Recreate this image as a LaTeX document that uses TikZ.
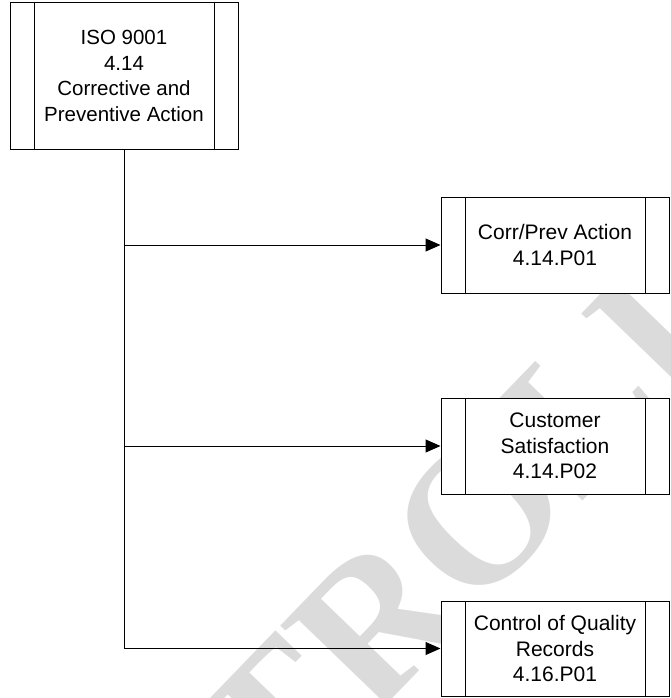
\documentclass[tikz,border=0pt]{standalone}
\usepackage{fontspec}
\setmainfont{Liberation Sans}
\newfontfamily\wmfont{Liberation Serif}
\usetikzlibrary{arrows.meta}
\begin{document}
\begin{tikzpicture}[x=1pt,y=-1pt,
  procbox/.style={draw=black, line width=1pt, fill=white, minimum width=228pt,
    minimum height=96pt, inner sep=0pt, align=center,
    font=\fontsize{21}{25.5}\selectfont,
    path picture={\draw[line width=1pt]
      ([xshift=24pt]path picture bounding box.north west) -- ([xshift=24pt]path picture bounding box.south west)
      ([xshift=-24pt]path picture bounding box.north east) -- ([xshift=-24pt]path picture bounding box.south east);}},
  link/.style={line width=1pt, -{Triangle[length=15pt,width=13pt]}},
  trunk/.style={line width=1pt},
  watermark/.style={rotate=46, inner sep=0pt, text=black!14,
    font=\wmfont\bfseries\fontsize{200}{200}\selectfont}
]
\useasboundingbox (0,0) rectangle (670,698);
\begin{scope}
  \clip (0,0) rectangle (670,698);
  \node[watermark] (wm) at (318,682) {UNCONTROLLED};
\end{scope}

\node[procbox, minimum height=146pt, font=\fontsize{20.5}{25.5}\selectfont] (iso) at (124,76) {ISO 9001\\4.14\\Corrective and\\Preventive Action};
\node[procbox] (cpa) at (555,245) {Corr/Prev Action\\4.14.P01};
\node[procbox] (cs) at (555,446) {Customer\\Satisfaction\\4.14.P02};
\node[procbox, minimum height=95pt] (cqr) at (555,648.5) {Control of Quality\\Records\\4.16.P01};

\draw[trunk] (iso.south) -- (iso.south |- cqr.west);
\draw[link] (iso.south |- cpa.west) -- (cpa.west);
\draw[link] (iso.south |- cs.west) -- (cs.west);
\draw[link] (iso.south |- cqr.west) -- (cqr.west);
\end{tikzpicture}
\end{document}
